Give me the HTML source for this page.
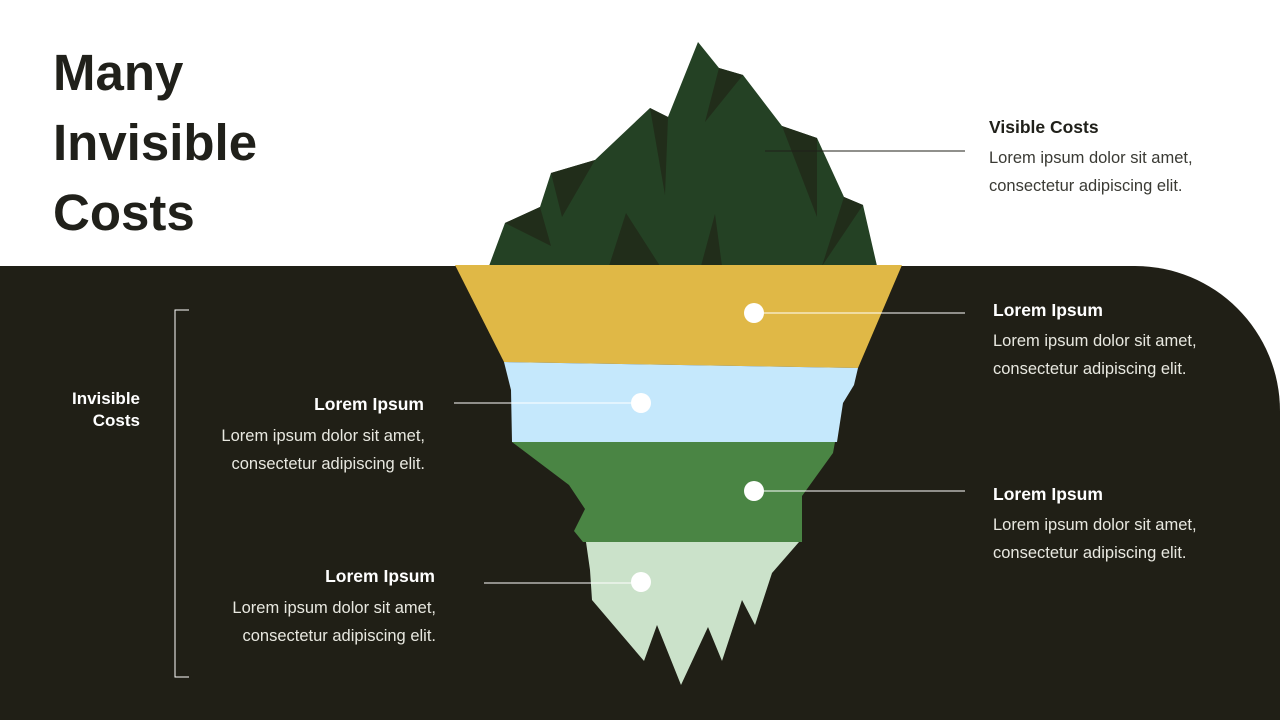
<!DOCTYPE html>
<html><head><meta charset="utf-8"><style>
html,body{margin:0;padding:0;background:#fff;}
svg{display:block;font-family:"Liberation Sans",sans-serif;}
</style></head><body>
<svg width="1280" height="720" viewBox="0 0 1280 720" xmlns="http://www.w3.org/2000/svg">
<rect width="1280" height="720" fill="#fff"/>
<path d="M0 266 H1135 A145 145 0 0 1 1280 411 V720 H0 Z" fill="#201f16"/>
<g fill="#20201a" font-weight="bold" font-size="51">
<text x="53" y="90">Many</text>
<text x="53" y="160">Invisible</text>
<text x="53" y="230">Costs</text>
</g>
<polygon points="489,266 505,223 540,207 551,173 595,160 650,108 668,117 698,42 719,68 743,75 782,126 817,138 844,197 863,205 877,266" fill="#244124"/>
<g fill="#212d1a">
<polygon points="505,223 540,207 551,246"/>
<polygon points="551,173 595,160 562,217"/>
<polygon points="650,108 668,117 665,195"/>
<polygon points="719,68 743,75 705,122"/>
<polygon points="782,126 817,138 817,217"/>
<polygon points="844,197 863,205 822,266"/>
<polygon points="626,213 609,266 660,266"/>
<polygon points="715,214 701,266 722,266"/>
</g>
<polygon points="455,265 902,265 858,368 504,362" fill="#e0b846"/>
<polygon points="504,362 858,368 854,385 843,403 837,442 512,442 511,390" fill="#c5e8fc"/>
<polygon points="512,442 835,442 833,453 802,496 802,542 583,542 574,531 585,509 569,485" fill="#4a8544"/>
<polygon points="586,542 799,542 772,573 755,625 742,600 722,661 708,627 681,685 657,625 644,661 592,600 590,570" fill="#cbe2ca"/>
<line x1="765" y1="151" x2="965" y2="151" stroke="#20201a" stroke-width="1"/>
<g stroke="#fff" stroke-width="1">
<line x1="754" y1="313" x2="965" y2="313"/>
<line x1="454" y1="403" x2="641" y2="403"/>
<line x1="754" y1="491" x2="965" y2="491"/>
<line x1="484" y1="583" x2="641" y2="583"/>
</g>
<g fill="#fff">
<circle cx="754" cy="313" r="10"/>
<circle cx="641" cy="403" r="10"/>
<circle cx="754" cy="491" r="10"/>
<circle cx="641" cy="582" r="10"/>
</g>
<path d="M189 310 H175 V677 H189" fill="none" stroke="#fff" stroke-width="1"/>
<g fill="#fff" font-weight="bold" font-size="17" text-anchor="end">
<text x="140" y="404">Invisible</text>
<text x="140" y="426">Costs</text>
</g>
<text x="989" y="133" font-size="17.5" font-weight="bold" fill="#20201a">Visible Costs</text>
<g font-size="16.5" fill="#3a3a34">
<text x="989" y="163">Lorem ipsum dolor sit amet,</text>
<text x="989" y="191">consectetur adipiscing elit.</text>
</g>
<g fill="#fff">
<text x="993" y="316" font-size="17.5" font-weight="bold">Lorem Ipsum</text>
<text x="993" y="346" font-size="16.5" fill="#e8e8e0">Lorem ipsum dolor sit amet,</text>
<text x="993" y="374" font-size="16.5" fill="#e8e8e0">consectetur adipiscing elit.</text>
<text x="993" y="500" font-size="17.5" font-weight="bold">Lorem Ipsum</text>
<text x="993" y="530" font-size="16.5" fill="#e8e8e0">Lorem ipsum dolor sit amet,</text>
<text x="993" y="558" font-size="16.5" fill="#e8e8e0">consectetur adipiscing elit.</text>
</g>
<g fill="#fff" text-anchor="end">
<text x="424" y="410" font-size="17.5" font-weight="bold">Lorem Ipsum</text>
<text x="425" y="441" font-size="16.5" fill="#e8e8e0">Lorem ipsum dolor sit amet,</text>
<text x="425" y="469" font-size="16.5" fill="#e8e8e0">consectetur adipiscing elit.</text>
<text x="435" y="582" font-size="17.5" font-weight="bold">Lorem Ipsum</text>
<text x="436" y="613" font-size="16.5" fill="#e8e8e0">Lorem ipsum dolor sit amet,</text>
<text x="436" y="641" font-size="16.5" fill="#e8e8e0">consectetur adipiscing elit.</text>
</g>
</svg>
</body></html>
